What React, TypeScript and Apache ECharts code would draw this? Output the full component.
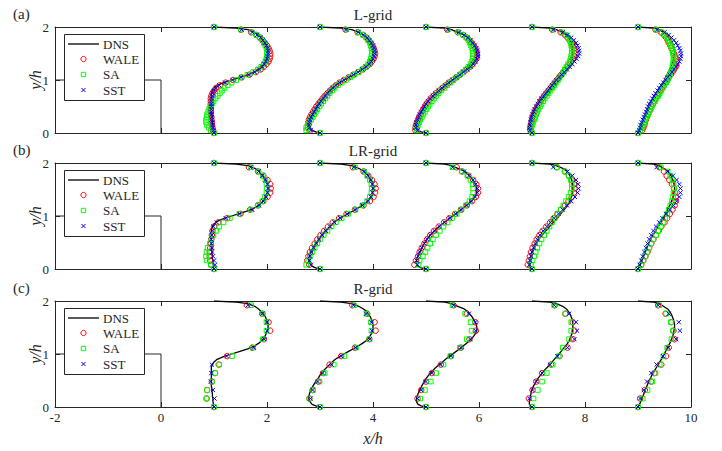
import { useEffect, useRef } from "react";
import * as echarts from "echarts";

// ---------- data ----------
const STATIONS = [1, 3, 5, 7, 9];
const X_MIN = -2, X_MAX = 10, X_INT = 2;
const Y_MIN = 0, Y_MAX = 2, Y_INT = 1;
const PANEL_TITLES = ["L-grid", "LR-grid", "R-grid"];
const PANEL_TAGS = ["(a)", "(b)", "(c)"];
const LEGEND_NAMES = ["DNS", "WALE", "SA", "SST"];

const HILL_X = [-2, 0, 0];
const HILL_Y = [1, 1, 0];

const DNS_Y = [0, 0.02, 0.05, 0.1, 0.15, 0.2, 0.25, 0.3, 0.35, 0.4, 0.45, 0.5, 0.55, 0.6, 0.65, 0.7, 0.75, 0.8, 0.85, 0.9, 0.95, 1.0, 1.05, 1.1, 1.15, 1.2, 1.25, 1.3, 1.35, 1.4, 1.45, 1.5, 1.55, 1.6, 1.65, 1.7, 1.75, 1.8, 1.85, 1.9, 1.95, 1.98, 2.0];
const DNS_1 = [0, -0.01, -0.01, -0.02, -0.02, -0.03, -0.03, -0.04, -0.04, -0.05, -0.05, -0.05, -0.05, -0.05, -0.05, -0.05, -0.05, -0.03, 0.0, 0.06, 0.18, 0.33, 0.49, 0.65, 0.76, 0.84, 0.9, 0.94, 0.97, 0.99, 1.01, 1.02, 1.02, 1.01, 0.99, 0.97, 0.93, 0.89, 0.84, 0.77, 0.64, 0.42, 0];
const DNS_3 = [0, -0.08, -0.15, -0.19, -0.21, -0.21, -0.2, -0.18, -0.16, -0.13, -0.1, -0.07, -0.03, 0.0, 0.04, 0.08, 0.13, 0.18, 0.23, 0.29, 0.37, 0.45, 0.54, 0.63, 0.72, 0.8, 0.87, 0.92, 0.95, 0.98, 0.99, 1.0, 1.0, 0.99, 0.97, 0.95, 0.92, 0.88, 0.82, 0.73, 0.6, 0.4, 0];
const DNS_5 = [0, -0.09, -0.15, -0.18, -0.18, -0.17, -0.15, -0.13, -0.1, -0.08, -0.05, -0.02, 0.01, 0.05, 0.09, 0.14, 0.19, 0.25, 0.31, 0.37, 0.43, 0.5, 0.57, 0.64, 0.7, 0.76, 0.82, 0.87, 0.91, 0.94, 0.96, 0.96, 0.95, 0.93, 0.9, 0.87, 0.83, 0.79, 0.72, 0.6, 0.48, 0.36, 0];
const DNS_7 = [0, -0.03, -0.05, -0.05, -0.04, -0.03, -0.02, -0.01, 0.01, 0.03, 0.06, 0.09, 0.12, 0.16, 0.2, 0.24, 0.29, 0.33, 0.38, 0.42, 0.47, 0.51, 0.55, 0.59, 0.63, 0.67, 0.7, 0.72, 0.74, 0.76, 0.77, 0.77, 0.77, 0.77, 0.76, 0.74, 0.72, 0.69, 0.65, 0.58, 0.46, 0.34, 0];
const DNS_9 = [0, 0.01, 0.03, 0.05, 0.07, 0.09, 0.11, 0.13, 0.15, 0.17, 0.19, 0.21, 0.24, 0.26, 0.29, 0.32, 0.35, 0.38, 0.41, 0.44, 0.47, 0.5, 0.52, 0.55, 0.57, 0.6, 0.62, 0.64, 0.66, 0.67, 0.68, 0.69, 0.69, 0.68, 0.67, 0.65, 0.63, 0.6, 0.56, 0.48, 0.4, 0.3, 0];

// panel (a) L-grid
const LEVELS_A = [0, 0.05, 0.1, 0.15, 0.2, 0.25, 0.3, 0.35, 0.4, 0.45, 0.5, 0.55, 0.6, 0.65, 0.7, 0.75, 0.8, 0.85, 0.9, 0.95, 1, 1.05, 1.1, 1.15, 1.2, 1.25, 1.3, 1.35, 1.4, 1.45, 1.5, 1.55, 1.6, 1.65, 1.7, 1.75, 1.8, 1.85, 1.9, 1.95, 2];
const A_WALE_1 = [0, -0.02, -0.03, -0.04, -0.04, -0.05, -0.05, -0.06, -0.06, -0.06, -0.06, -0.06, -0.06, -0.06, -0.05, -0.03, 0.0, 0.04, 0.11, 0.22, 0.36, 0.52, 0.67, 0.79, 0.88, 0.94, 0.99, 1.03, 1.05, 1.06, 1.06, 1.05, 1.03, 1.0, 0.96, 0.92, 0.87, 0.8, 0.7, 0.51, 0];
const A_SA_1 = [0, -0.06, -0.1, -0.13, -0.15, -0.15, -0.14, -0.13, -0.11, -0.09, -0.07, -0.04, -0.01, 0.03, 0.07, 0.11, 0.15, 0.2, 0.26, 0.33, 0.42, 0.52, 0.63, 0.74, 0.83, 0.89, 0.94, 0.97, 0.99, 1.0, 1.0, 1.0, 0.99, 0.97, 0.94, 0.91, 0.86, 0.8, 0.71, 0.51, 0];
const A_SST_1 = [0, -0.01, -0.02, -0.03, -0.03, -0.04, -0.04, -0.05, -0.05, -0.05, -0.05, -0.05, -0.05, -0.04, -0.03, -0.02, 0.0, 0.04, 0.1, 0.21, 0.35, 0.51, 0.66, 0.77, 0.85, 0.91, 0.95, 0.98, 1.0, 1.01, 1.02, 1.02, 1.01, 0.99, 0.96, 0.92, 0.88, 0.81, 0.72, 0.52, 0];
const A_WALE_3 = [0, -0.2, -0.23, -0.23, -0.22, -0.21, -0.19, -0.16, -0.13, -0.1, -0.07, -0.03, 0.01, 0.05, 0.09, 0.14, 0.19, 0.24, 0.3, 0.37, 0.45, 0.54, 0.63, 0.72, 0.81, 0.88, 0.94, 0.98, 1.01, 1.03, 1.04, 1.03, 1.01, 0.99, 0.96, 0.92, 0.88, 0.81, 0.71, 0.48, 0];
const A_SA_3 = [0, -0.26, -0.26, -0.23, -0.2, -0.17, -0.14, -0.11, -0.08, -0.05, -0.01, 0.02, 0.06, 0.1, 0.14, 0.18, 0.23, 0.28, 0.34, 0.41, 0.49, 0.57, 0.65, 0.73, 0.8, 0.86, 0.91, 0.94, 0.96, 0.97, 0.98, 0.98, 0.97, 0.96, 0.94, 0.91, 0.87, 0.81, 0.72, 0.49, 0];
const A_SST_3 = [0, -0.17, -0.2, -0.21, -0.2, -0.19, -0.17, -0.14, -0.11, -0.08, -0.05, -0.02, 0.02, 0.06, 0.1, 0.14, 0.19, 0.24, 0.3, 0.37, 0.45, 0.54, 0.63, 0.72, 0.8, 0.87, 0.93, 0.97, 1.0, 1.02, 1.03, 1.03, 1.02, 1.0, 0.97, 0.93, 0.89, 0.82, 0.72, 0.49, 0];
const A_WALE_5 = [0, -0.2, -0.2, -0.19, -0.17, -0.15, -0.13, -0.1, -0.08, -0.05, -0.02, 0.01, 0.05, 0.09, 0.14, 0.19, 0.25, 0.31, 0.37, 0.43, 0.5, 0.57, 0.64, 0.71, 0.77, 0.83, 0.88, 0.92, 0.95, 0.96, 0.96, 0.95, 0.93, 0.9, 0.86, 0.82, 0.77, 0.7, 0.6, 0.4, 0];
const A_SA_5 = [0, -0.17, -0.17, -0.15, -0.13, -0.11, -0.08, -0.05, -0.02, 0.01, 0.04, 0.07, 0.11, 0.15, 0.19, 0.24, 0.29, 0.35, 0.4, 0.46, 0.52, 0.58, 0.64, 0.7, 0.75, 0.8, 0.84, 0.87, 0.88, 0.89, 0.89, 0.88, 0.87, 0.85, 0.83, 0.8, 0.76, 0.7, 0.61, 0.41, 0];
const A_SST_5 = [0, -0.16, -0.19, -0.19, -0.18, -0.16, -0.14, -0.12, -0.09, -0.06, -0.03, 0.0, 0.04, 0.08, 0.13, 0.18, 0.24, 0.3, 0.36, 0.43, 0.5, 0.57, 0.64, 0.71, 0.78, 0.84, 0.89, 0.93, 0.96, 0.98, 0.98, 0.97, 0.95, 0.92, 0.88, 0.84, 0.79, 0.72, 0.62, 0.41, 0];
const A_WALE_7 = [0, -0.03, -0.03, -0.02, -0.01, 0.0, 0.01, 0.03, 0.05, 0.07, 0.1, 0.13, 0.16, 0.19, 0.23, 0.27, 0.31, 0.35, 0.39, 0.43, 0.47, 0.51, 0.55, 0.59, 0.63, 0.67, 0.71, 0.74, 0.77, 0.79, 0.8, 0.8, 0.79, 0.77, 0.75, 0.71, 0.67, 0.62, 0.54, 0.38, 0];
const A_SA_7 = [0, -0.02, -0.01, 0.0, 0.02, 0.04, 0.06, 0.08, 0.1, 0.12, 0.15, 0.18, 0.21, 0.24, 0.28, 0.31, 0.35, 0.38, 0.42, 0.45, 0.49, 0.52, 0.56, 0.59, 0.62, 0.65, 0.68, 0.71, 0.73, 0.74, 0.75, 0.75, 0.75, 0.74, 0.73, 0.71, 0.68, 0.64, 0.57, 0.4, 0];
const A_SST_7 = [0, -0.04, -0.05, -0.04, -0.03, -0.02, -0.01, 0.01, 0.03, 0.05, 0.08, 0.11, 0.14, 0.18, 0.22, 0.26, 0.3, 0.34, 0.38, 0.42, 0.46, 0.51, 0.56, 0.61, 0.66, 0.71, 0.76, 0.8, 0.84, 0.87, 0.89, 0.89, 0.88, 0.86, 0.83, 0.79, 0.74, 0.67, 0.58, 0.4, 0];
const A_WALE_9 = [0, 0.08, 0.1, 0.12, 0.13, 0.15, 0.17, 0.19, 0.21, 0.23, 0.25, 0.28, 0.3, 0.33, 0.36, 0.39, 0.42, 0.45, 0.48, 0.52, 0.55, 0.58, 0.62, 0.65, 0.68, 0.71, 0.72, 0.73, 0.72, 0.7, 0.68, 0.66, 0.63, 0.61, 0.58, 0.56, 0.53, 0.49, 0.43, 0.33, 0];
const A_SA_9 = [0, 0.04, 0.07, 0.09, 0.12, 0.14, 0.16, 0.19, 0.21, 0.24, 0.26, 0.29, 0.32, 0.35, 0.38, 0.41, 0.44, 0.47, 0.5, 0.53, 0.56, 0.58, 0.6, 0.62, 0.64, 0.65, 0.66, 0.67, 0.67, 0.67, 0.66, 0.65, 0.64, 0.62, 0.6, 0.58, 0.55, 0.51, 0.45, 0.35, 0];
const A_SST_9 = [0, 0.02, 0.04, 0.05, 0.07, 0.09, 0.11, 0.13, 0.15, 0.17, 0.19, 0.21, 0.24, 0.27, 0.3, 0.33, 0.37, 0.4, 0.44, 0.48, 0.52, 0.56, 0.6, 0.64, 0.68, 0.72, 0.75, 0.78, 0.8, 0.81, 0.81, 0.8, 0.78, 0.75, 0.72, 0.68, 0.63, 0.58, 0.5, 0.36, 0];

// panel (b) LR-grid
const LEVELS_B = [0, 0.08, 0.16, 0.24, 0.32, 0.4, 0.48, 0.56, 0.64, 0.72, 0.8, 0.88, 0.96, 1.04, 1.12, 1.2, 1.28, 1.36, 1.44, 1.52, 1.6, 1.68, 1.76, 1.84, 1.92, 2];
const B_WALE_1 = [0, -0.05, -0.07, -0.08, -0.08, -0.07, -0.06, -0.05, -0.04, -0.03, 0.0, 0.08, 0.25, 0.5, 0.68, 0.83, 0.93, 1.01, 1.06, 1.07, 1.06, 1.01, 0.93, 0.83, 0.66, 0];
const B_SA_1 = [0, -0.06, -0.14, -0.15, -0.14, -0.12, -0.08, -0.05, -0.01, 0.04, 0.1, 0.18, 0.3, 0.48, 0.7, 0.83, 0.91, 0.96, 0.99, 1.0, 0.99, 0.97, 0.92, 0.84, 0.7, 0];
const B_SST_1 = [0, 0.02, 0.0, -0.02, -0.03, -0.04, -0.05, -0.05, -0.04, -0.03, -0.01, 0.05, 0.22, 0.48, 0.72, 0.85, 0.93, 0.98, 1.01, 1.02, 1.01, 0.97, 0.91, 0.84, 0.69, 0];
const B_WALE_3 = [0, -0.2, -0.24, -0.22, -0.19, -0.15, -0.1, -0.05, 0.01, 0.08, 0.15, 0.24, 0.36, 0.5, 0.66, 0.82, 0.94, 1.01, 1.04, 1.05, 1.03, 0.98, 0.91, 0.82, 0.62, 0];
const B_SA_3 = [0, -0.26, -0.22, -0.19, -0.15, -0.1, -0.05, 0.0, 0.07, 0.14, 0.22, 0.3, 0.41, 0.53, 0.67, 0.8, 0.89, 0.94, 0.97, 0.98, 0.97, 0.94, 0.89, 0.83, 0.66, 0];
const B_SST_3 = [0, -0.17, -0.2, -0.19, -0.16, -0.12, -0.07, -0.02, 0.04, 0.11, 0.19, 0.27, 0.38, 0.51, 0.66, 0.8, 0.9, 0.96, 0.99, 1.0, 0.99, 0.96, 0.9, 0.83, 0.64, 0];
const B_WALE_5 = [0, -0.22, -0.19, -0.15, -0.12, -0.08, -0.03, 0.02, 0.08, 0.15, 0.24, 0.34, 0.44, 0.55, 0.66, 0.77, 0.87, 0.94, 0.98, 0.98, 0.95, 0.89, 0.8, 0.68, 0.58, 0];
const B_SA_5 = [0, -0.14, -0.12, -0.06, -0.01, 0.03, 0.08, 0.13, 0.19, 0.26, 0.33, 0.41, 0.49, 0.58, 0.67, 0.75, 0.82, 0.87, 0.89, 0.89, 0.88, 0.84, 0.78, 0.68, 0.5, 0];
const B_SST_5 = [0, -0.16, -0.18, -0.15, -0.12, -0.08, -0.03, 0.02, 0.08, 0.16, 0.25, 0.35, 0.45, 0.56, 0.66, 0.77, 0.86, 0.93, 0.97, 0.97, 0.94, 0.89, 0.81, 0.72, 0.5, 0];
const B_WALE_7 = [0, -0.08, -0.06, -0.04, -0.02, 0.01, 0.05, 0.09, 0.14, 0.2, 0.27, 0.34, 0.41, 0.48, 0.55, 0.62, 0.69, 0.75, 0.79, 0.8, 0.79, 0.75, 0.7, 0.62, 0.47, 0];
const B_SA_7 = [0, -0.02, 0.01, 0.04, 0.07, 0.1, 0.14, 0.18, 0.23, 0.28, 0.33, 0.38, 0.43, 0.48, 0.54, 0.59, 0.64, 0.69, 0.73, 0.75, 0.75, 0.73, 0.69, 0.62, 0.47, 0];
const B_SST_7 = [0, -0.05, -0.04, -0.02, 0.0, 0.03, 0.06, 0.1, 0.15, 0.21, 0.28, 0.35, 0.42, 0.5, 0.58, 0.66, 0.74, 0.81, 0.86, 0.88, 0.87, 0.83, 0.76, 0.67, 0.4, 0];
const B_WALE_9 = [0, 0.06, 0.1, 0.14, 0.18, 0.21, 0.25, 0.29, 0.34, 0.39, 0.44, 0.5, 0.55, 0.6, 0.65, 0.69, 0.71, 0.71, 0.7, 0.68, 0.64, 0.59, 0.54, 0.49, 0.4, 0];
const B_SA_9 = [0, 0.06, 0.1, 0.14, 0.17, 0.21, 0.25, 0.29, 0.34, 0.38, 0.43, 0.47, 0.51, 0.55, 0.58, 0.61, 0.64, 0.66, 0.67, 0.68, 0.67, 0.65, 0.61, 0.56, 0.43, 0];
const B_SST_9 = [0, 0.03, 0.06, 0.09, 0.12, 0.15, 0.18, 0.21, 0.25, 0.29, 0.34, 0.4, 0.46, 0.53, 0.6, 0.67, 0.73, 0.78, 0.8, 0.8, 0.78, 0.73, 0.66, 0.56, 0.35, 0];

// panel (c) R-grid
const LEVELS_C = [0, 0.16, 0.32, 0.48, 0.64, 0.8, 0.96, 1.12, 1.28, 1.44, 1.6, 1.76, 1.92];
const C_WALE_1 = [0, -0.14, -0.13, -0.04, 0.02, 0.09, 0.25, 0.72, 0.94, 1.06, 1.03, 0.91, 0.62];
const C_SA_1 = [0, -0.14, -0.13, -0.04, 0.02, 0.1, 0.34, 0.74, 0.92, 0.99, 0.99, 0.92, 0.7];
const C_SST_1 = [0, 0.01, -0.02, -0.06, -0.05, -0.04, 0.24, 0.75, 0.95, 1.0, 1.0, 0.91, 0.64];
const C_WALE_3 = [0, -0.2, -0.14, -0.03, 0.06, 0.18, 0.4, 0.66, 0.93, 1.05, 1.03, 0.89, 0.61];
const C_SA_3 = [0, -0.2, -0.13, -0.01, 0.09, 0.26, 0.46, 0.68, 0.93, 0.97, 0.96, 0.88, 0.64];
const C_SST_3 = [0, -0.18, -0.14, -0.04, 0.05, 0.22, 0.4, 0.67, 0.94, 0.98, 0.97, 0.87, 0.63];
const C_WALE_5 = [0, -0.16, -0.09, 0.0, 0.11, 0.28, 0.47, 0.66, 0.82, 0.94, 0.93, 0.77, 0.52];
const C_SA_5 = [0, -0.11, -0.02, 0.09, 0.19, 0.33, 0.46, 0.64, 0.77, 0.86, 0.84, 0.74, 0.5];
const C_SST_5 = [0, -0.16, -0.09, 0.0, 0.11, 0.28, 0.47, 0.66, 0.84, 0.94, 0.93, 0.81, 0.52];
const C_WALE_7 = [0, -0.06, 0.01, 0.08, 0.19, 0.36, 0.52, 0.67, 0.77, 0.8, 0.77, 0.63, 0.43];
const C_SA_7 = [0, 0.03, 0.11, 0.19, 0.28, 0.39, 0.5, 0.58, 0.7, 0.74, 0.74, 0.63, 0.42];
const C_SST_7 = [0, -0.05, 0.01, 0.08, 0.19, 0.34, 0.48, 0.67, 0.8, 0.85, 0.83, 0.7, 0.42];
const C_WALE_9 = [0, 0.04, 0.13, 0.25, 0.31, 0.44, 0.53, 0.58, 0.69, 0.67, 0.63, 0.52, 0.38];
const C_SA_9 = [0, 0.09, 0.18, 0.27, 0.33, 0.41, 0.48, 0.55, 0.63, 0.66, 0.62, 0.53, 0.4];
const C_SST_9 = [0, 0.04, 0.11, 0.17, 0.25, 0.35, 0.47, 0.57, 0.72, 0.79, 0.77, 0.58, 0.38];

// ---------- tables built from the arrays ----------
const DNS_PROFILES = [DNS_1, DNS_3, DNS_5, DNS_7, DNS_9];
const PANELS = [
  { levels: LEVELS_A, models: [[A_WALE_1, A_WALE_3, A_WALE_5, A_WALE_7, A_WALE_9], [A_SA_1, A_SA_3, A_SA_5, A_SA_7, A_SA_9], [A_SST_1, A_SST_3, A_SST_5, A_SST_7, A_SST_9]] },
  { levels: LEVELS_B, models: [[B_WALE_1, B_WALE_3, B_WALE_5, B_WALE_7, B_WALE_9], [B_SA_1, B_SA_3, B_SA_5, B_SA_7, B_SA_9], [B_SST_1, B_SST_3, B_SST_5, B_SST_7, B_SST_9]] },
  { levels: LEVELS_C, models: [[C_WALE_1, C_WALE_3, C_WALE_5, C_WALE_7, C_WALE_9], [C_SA_1, C_SA_3, C_SA_5, C_SA_7, C_SA_9], [C_SST_1, C_SST_3, C_SST_5, C_SST_7, C_SST_9]] },
];

// ---------- styling ----------
const FONT = "Liberation Serif";
const AX = "#262626";
const RED = "#ff0000";
const GREEN = "#00ff00";
const BLUE = "#0000ff";
const GRID_LEFT = 55;
const GRID_W = 636;
const GRID_H = 106;
const GRID_TOPS = [27, 163, 301];
const X_SYMBOL = "path://M0 0L10 10M10 0L0 10";
const MODEL_STYLE = [
  { symbol: "circle", size: 5.5, color: RED },
  { symbol: "rect", size: 4.6, color: GREEN },
  { symbol: X_SYMBOL, size: 4.2, color: BLUE },
];

function buildOption() {
  const grid: any[] = [];
  const xAxis: any[] = [];
  const yAxis: any[] = [];
  const series: any[] = [];
  const graphic: any[] = [];

  GRID_TOPS.forEach((top, p) => {
    grid.push({ left: GRID_LEFT, top, width: GRID_W, height: GRID_H, containLabel: false });
    const xBase = {
      gridIndex: p, type: "value", min: X_MIN, max: X_MAX, interval: X_INT,
      axisLine: { show: true, onZero: false, lineStyle: { color: AX, width: 1 } },
      axisTick: { show: true, inside: true, length: 5, lineStyle: { color: AX, width: 1 } },
      splitLine: { show: false },
    };
    xAxis.push({ ...xBase, position: "bottom", axisLabel: { show: p === 2, color: AX, fontSize: 13, fontFamily: FONT, margin: 4 } });
    xAxis.push({ ...xBase, position: "top", axisLabel: { show: false } });
    const yBase = {
      gridIndex: p, type: "value", min: Y_MIN, max: Y_MAX, interval: Y_INT,
      axisLine: { show: true, onZero: false, lineStyle: { color: AX, width: 1 } },
      axisTick: { show: true, inside: true, length: 5, lineStyle: { color: AX, width: 1 } },
      splitLine: { show: false },
    };
    yAxis.push({ ...yBase, position: "left", axisLabel: { show: true, color: AX, fontSize: 13, fontFamily: FONT, margin: 6 } });
    yAxis.push({ ...yBase, position: "right", axisLabel: { show: false } });

    const xi = 2 * p, yi = 2 * p;
    // hill outline
    series.push({
      type: "line", xAxisIndex: xi, yAxisIndex: yi, silent: true, symbol: "none",
      data: HILL_X.map((x, k) => [x, HILL_Y[k]]),
      lineStyle: { color: AX, width: 1 }, z: 1,
    });
    // DNS profiles
    STATIONS.forEach((s, i) => {
      series.push({
        type: "line", xAxisIndex: xi, yAxisIndex: yi, silent: true, symbol: "none",
        data: DNS_Y.map((y, k) => [s + DNS_PROFILES[i][k], y]),
        lineStyle: { color: "#000", width: 1.3 }, z: 2,
      });
    });
    // model markers
    const panel = PANELS[p];
    panel.models.forEach((stationArrs, m) => {
      const data: number[][] = [];
      stationArrs.forEach((arr, i) => arr.forEach((u, k) => data.push([STATIONS[i] + u, panel.levels[k]])));
      const st = MODEL_STYLE[m];
      series.push({
        type: "scatter", xAxisIndex: xi, yAxisIndex: yi, silent: true,
        symbol: st.symbol, symbolSize: st.size, data,
        itemStyle: { color: "rgba(0,0,0,0)", borderColor: st.color, borderWidth: 1, opacity: 1 },
        z: 3 + m,
      });
    });

    // texts
    graphic.push({ type: "text", x: 13, y: top - 13.5, z: 100, style: { text: PANEL_TAGS[p], fill: AX, fontSize: 15, fontFamily: FONT, align: "left", verticalAlign: "middle" } });
    graphic.push({ type: "text", x: GRID_LEFT + GRID_W / 2, y: top - 12, z: 100, style: { text: PANEL_TITLES[p], fill: AX, fontSize: 15, fontFamily: FONT, align: "center", verticalAlign: "middle" } });
    graphic.push({ type: "text", x: 35, y: top + GRID_H / 2, rotation: Math.PI / 2, z: 100, style: { text: "y/h", fill: AX, fontSize: 16, fontStyle: "italic", fontFamily: FONT, align: "center", verticalAlign: "middle" } });

    // legend
    const lx = 64, ly = top + 7;
    graphic.push({ type: "rect", z: 100, shape: { x: lx + 0.5, y: ly + 0.5, width: 80, height: 66 }, style: { fill: "#fff", stroke: AX, lineWidth: 1 } });
    graphic.push({ type: "line", z: 101, shape: { x1: lx + 4, y1: ly + 10, x2: lx + 35, y2: ly + 10 }, style: { stroke: "#000", lineWidth: 1.3 } });
    graphic.push({ type: "circle", z: 101, shape: { cx: lx + 19.5, cy: ly + 25, r: 2.6 }, style: { fill: "none", stroke: RED, lineWidth: 1 } });
    graphic.push({ type: "rect", z: 101, shape: { x: lx + 17.3, y: ly + 38.3, width: 4.4, height: 4.4 }, style: { fill: "none", stroke: GREEN, lineWidth: 1 } });
    graphic.push({ type: "line", z: 101, shape: { x1: lx + 17.5, y1: ly + 54, x2: lx + 21.5, y2: ly + 58 }, style: { stroke: BLUE, lineWidth: 1 } });
    graphic.push({ type: "line", z: 101, shape: { x1: lx + 21.5, y1: ly + 54, x2: lx + 17.5, y2: ly + 58 }, style: { stroke: BLUE, lineWidth: 1 } });
    const rowsY = [10, 25, 40.5, 56];
    LEGEND_NAMES.forEach((name, k) => {
      graphic.push({ type: "text", z: 101, x: lx + 39, y: ly + rowsY[k], style: { text: name, fill: AX, fontSize: 13, fontFamily: FONT, align: "left", verticalAlign: "middle" } });
    });
  });

  graphic.push({ type: "text", x: GRID_LEFT + GRID_W / 2, y: 438, z: 100, style: { text: "x/h", fill: AX, fontSize: 16, fontStyle: "italic", fontFamily: FONT, align: "center", verticalAlign: "middle" } });

  return {
    animation: false,
    backgroundColor: "#ffffff",
    grid, xAxis, yAxis, series, graphic,
  };
}

export default function App() {
  const ref = useRef<HTMLDivElement>(null);
  useEffect(() => {
    if (!ref.current) return;
    const chart = echarts.init(ref.current, undefined, { renderer: "svg" });
    chart.setOption(buildOption() as any);
    return () => chart.dispose();
  }, []);
  return <div ref={ref} style={{ position: "fixed", left: 0, top: 0, width: 722, height: 451, background: "#fff" }} />;
}
